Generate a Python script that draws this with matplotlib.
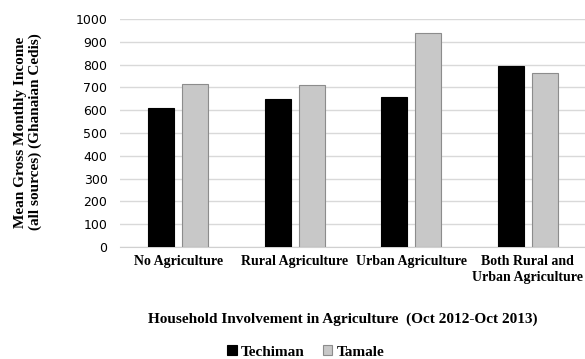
import matplotlib.pyplot as plt
import numpy as np

categories = ["No Agriculture", "Rural Agriculture", "Urban Agriculture",
              "Both Rural and\nUrban Agriculture"]
techiman = [610, 649, 656, 795]
tamale = [715, 711, 940, 762]
yticks = [0, 100, 200, 300, 400, 500, 600, 700, 800, 900, 1000]

serif = "Liberation Serif"

fig = plt.figure(figsize=(5.85, 3.59), dpi=100)
ax = fig.add_axes([120 / 585, 1 - 247 / 359, 466 / 585, 228 / 359])

x = np.arange(len(categories))
w = 0.223
off = 0.145
ax.bar(x - off, techiman, w, color="black", edgecolor="black", linewidth=0.8,
       label="Techiman", zorder=3)
ax.bar(x + off, tamale, w, color="#c8c8c8", edgecolor="#8c8c8c", linewidth=0.8,
       label="Tamale", zorder=3)

ax.set_xlim(-0.5, len(categories) - 0.5)
ax.set_ylim(0, 1000)
ax.set_yticks(yticks)
ax.yaxis.grid(True, color="#d9d9d9", linewidth=1, zorder=0)
for s in ["top", "right", "left"]:
    ax.spines[s].set_visible(False)
ax.spines["bottom"].set_color("#d0d0d0")
ax.tick_params(length=0)
ax.tick_params(axis="y", labelsize=9, pad=9)
ax.set_xticks(x)
ax.set_xticklabels(categories, family=serif, fontweight="bold", fontsize=10,
                   linespacing=1.3)
ax.tick_params(axis="x", pad=6)

fig.text(28 / 585, 1 - 132 / 359,
         "Mean Gross Monthly Income\n(all sources) (Ghanaian Cedis)",
         family=serif, fontweight="bold", fontsize=11, rotation=90,
         ha="center", va="center", linespacing=1.15)
fig.text(343 / 585, 1 - 319 / 359,
         "Household Involvement in Agriculture  (Oct 2012-Oct 2013)",
         family=serif, fontweight="bold", fontsize=11, ha="center", va="center")

fig.legend(loc="center", bbox_to_anchor=(306 / 585, 1 - 352 / 359),
           ncol=2, frameon=False, prop={"family": serif, "weight": "bold", "size": 11},
           handlelength=0.6, handleheight=0.6, handletextpad=0.3, columnspacing=1.2)

fig.savefig("out.png", dpi=100)
